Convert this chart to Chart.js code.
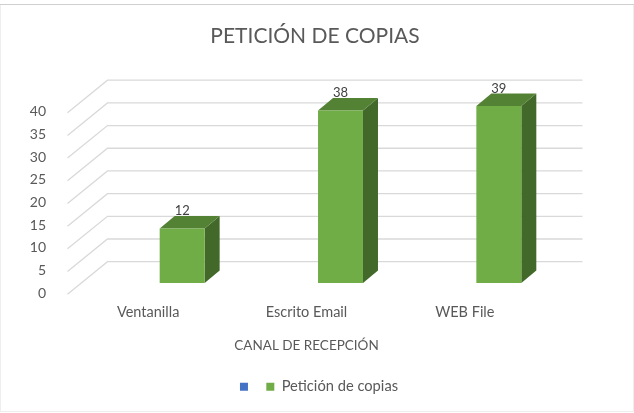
<!DOCTYPE html>
<html><head><meta charset="utf-8">
<style>html,body{margin:0;padding:0;background:#fff}#w{width:634px;height:413px;position:relative}</style>
<script src="https://cdn.jsdelivr.net/npm/chart.js@4"></script></head>
<body><div id="w"><canvas id="c" width="634" height="413"></canvas></div>
<script>
const categories = ['Ventanilla', 'Escrito Email', 'WEB File'];
const seriesName = 'Petición de copias';
const values = [12, 38, 39];
const chartTitle = 'PETICIÓN DE COPIAS';
const xTitle = 'CANAL DE RECEPCIÓN';
const font = 'Lato';
const textColor = '#595959';
const barShift = {x: 34, y: -10.2};
const depth = {x: 15, y: -12.5};
const back = {x: 38.5, y: -31.5};
const legendShift = 4;

const perspective = {
  id: 'perspective',
  afterLayout(chart) {
    chart.legend.left += legendShift;
    chart.legend.right += legendShift;
  },
  beforeDraw(chart) {
    const {ctx, width, height} = chart;
    ctx.save();
    ctx.strokeStyle = '#eeeeee';
    ctx.lineWidth = 1;
    ctx.strokeRect(0.5, 4.5, width - 1, height - 6);
    ctx.strokeStyle = '#cfcfcf';
    ctx.beginPath();
    ctx.moveTo(0, 4.5);
    ctx.lineTo(width, 4.5);
    ctx.stroke();
    ctx.restore();
  },
  beforeDatasetsDraw(chart) {
    const {ctx, scales: {x, y}} = chart;
    ctx.save();
    ctx.strokeStyle = '#d9d9d9';
    ctx.lineWidth = 1.3;
    y.ticks.forEach(t => {
      const py = y.getPixelForValue(t.value);
      ctx.beginPath();
      ctx.moveTo(x.left - 1.5, py + 1);
      ctx.lineTo(x.left + back.x, py + back.y);
      ctx.lineTo(x.right + back.x, py + back.y);
      ctx.stroke();
    });
    ctx.restore();
    ctx.save();
    ctx.translate(barShift.x, barShift.y);
    const meta = chart.getDatasetMeta(1);
    meta.data.forEach(b => {
      const hw = b.width / 2, l = b.x - hw, r = b.x + hw, t = b.y, base = b.base;
      ctx.fillStyle = '#42692a';
      ctx.beginPath();
      ctx.moveTo(r, t); ctx.lineTo(r + depth.x, t + depth.y);
      ctx.lineTo(r + depth.x, base + depth.y); ctx.lineTo(r, base);
      ctx.closePath(); ctx.fill();
      ctx.fillStyle = '#548235';
      ctx.beginPath();
      ctx.moveTo(l, t); ctx.lineTo(l + depth.x, t + depth.y);
      ctx.lineTo(r + depth.x, t + depth.y); ctx.lineTo(r, t);
      ctx.closePath(); ctx.fill();
    });
  },
  afterDatasetsDraw(chart) {
    const {ctx} = chart;
    const meta = chart.getDatasetMeta(1);
    ctx.fillStyle = '#404040';
    ctx.font = '13px ' + font;
    ctx.textAlign = 'center';
    ctx.textBaseline = 'middle';
    meta.data.forEach((b, i) => {
      ctx.fillText(String(values[i]), b.x, b.y + depth.y - 5);
    });
    ctx.restore();
  }
};

new Chart(document.getElementById('c'), {
  type: 'bar',
  data: {
    labels: categories,
    datasets: [
      {label: '', data: [], backgroundColor: '#4472c4', grouped: false},
      {label: seriesName, data: values, backgroundColor: '#70ad47', grouped: false,
       barPercentage: 0.284, categoryPercentage: 1, borderWidth: 0}
    ]
  },
  options: {
    responsive: false,
    animation: false,
    layout: {padding: {left: 0, right: 4, top: 0, bottom: 9}},
    plugins: {
      title: {display: true, text: chartTitle, color: textColor,
        font: {family: font, size: 21, weight: 'normal'}, padding: {top: 24, bottom: 62.5}},
      legend: {position: 'bottom',
        labels: {boxWidth: 8, boxHeight: 8, color: textColor, padding: 11,
          font: {family: font, size: 14.7}}},
      tooltip: {enabled: false}
    },
    scales: {
      x: {
        grid: {display: false},
        border: {display: false},
        ticks: {color: textColor, font: {family: font, size: 14.5}, padding: 2.5, maxRotation: 0},
        title: {display: true, text: xTitle, color: textColor,
          font: {family: font, size: 13.5}, padding: {top: 14, bottom: 14.5}}
      },
      y: {
        min: 0, max: 40,
        grid: {display: false},
        border: {display: false},
        ticks: {stepSize: 5, color: textColor, font: {family: font, size: 14}, padding: 15},
        afterFit(s) { s.width = 69; }
      },
      spacer: {
        position: 'right',
        grid: {display: false},
        border: {display: false},
        ticks: {display: false},
        afterFit(s) { s.width = 86; }
      }
    }
  },
  plugins: [perspective]
});
</script></body></html>
